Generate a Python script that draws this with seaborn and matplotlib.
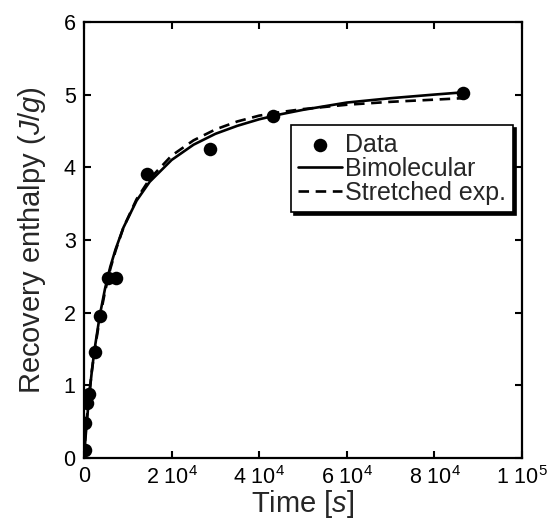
import matplotlib
matplotlib.use("Agg")
import matplotlib.pyplot as plt
import seaborn as sns
import pandas as pd

# ---- data ----
data_time = [150, 300, 600, 1200, 2400, 3600, 5400, 7200, 14400, 28800, 43200, 86400]
data_enthalpy = [0.11, 0.48, 0.75, 0.88, 1.46, 1.96, 2.48, 2.48, 3.91, 4.25, 4.71, 5.02]

curve_time = [0, 300, 600, 1200, 1800, 2400, 3600, 4800, 6000, 7200, 9000, 12000,
              15000, 20000, 25000, 30000, 35000, 40000, 45000, 50000, 60000, 70000,
              80000, 86400]
bimolecular = [0, 0.24, 0.47, 0.86, 1.20, 1.49, 1.96, 2.33, 2.63, 2.87, 3.17, 3.54,
               3.80, 4.10, 4.31, 4.46, 4.57, 4.66, 4.73, 4.79, 4.89, 4.95, 5.00, 5.03]
stretched = [0, 0.30, 0.52, 0.88, 1.20, 1.47, 1.92, 2.29, 2.60, 2.85, 3.17, 3.56,
             3.84, 4.16, 4.37, 4.52, 4.63, 4.71, 4.76, 4.80, 4.86, 4.90, 4.93, 4.95]

x_ticks = [0, 20000, 40000, 60000, 80000, 100000]
x_tick_labels = ["0", "2 10$^4$", "4 10$^4$", "6 10$^4$", "8 10$^4$", "1 10$^5$"]
y_ticks = [0, 1, 2, 3, 4, 5, 6]

sns.set_theme(style="ticks")
plt.rcParams["font.family"] = ["Liberation Sans", "DejaVu Sans"]
plt.rcParams["mathtext.fontset"] = "custom"
plt.rcParams["mathtext.rm"] = "Liberation Sans"
plt.rcParams["mathtext.it"] = "Liberation Sans:italic"
plt.rcParams["mathtext.bf"] = "Liberation Sans:bold"

fig = plt.figure(figsize=(5.49, 5.21), dpi=100)
ax = fig.add_axes([0.153, 0.121, 0.798, 0.837])

df_data = pd.DataFrame({"t": data_time, "h": data_enthalpy})
df_curve = pd.DataFrame({"t": curve_time, "bi": bimolecular, "st": stretched})

sns.lineplot(data=df_curve, x="t", y="st", ax=ax, color="black", lw=1.9,
             dashes=False, linestyle=(0, (4, 2.5)), label="Stretched exp.", zorder=2)
sns.lineplot(data=df_curve, x="t", y="bi", ax=ax, color="black", lw=1.9,
             label="Bimolecular", zorder=3)
sns.scatterplot(data=df_data, x="t", y="h", ax=ax, color="black", s=95,
                edgecolor="black", linewidth=0, label="Data", zorder=4)

ax.set_xlim(0, 100000)
ax.set_ylim(0, 6)
ax.set_xticks(x_ticks)
ax.set_xticklabels(x_tick_labels)
ax.set_yticks(y_ticks)
ax.tick_params(direction="in", length=5, width=1.5, labelsize=15.5,
               top=True, right=True, pad=6, colors="black")
for sp in ax.spines.values():
    sp.set_linewidth(1.6)
    sp.set_color("black")

ax.set_xlabel("Time [$s$]", fontsize=21, labelpad=-1)
ax.set_ylabel("Recovery enthalpy ($J/g$)", fontsize=21, labelpad=11)

handles, labels = ax.get_legend_handles_labels()
order = [labels.index("Data"), labels.index("Bimolecular"), labels.index("Stretched exp.")]
leg = ax.legend([handles[i] for i in order], [labels[i] for i in order],
                loc="upper left", bbox_to_anchor=(0.472, 0.763), fontsize=18,
                frameon=True, fancybox=False, edgecolor="black", framealpha=1,
                shadow={"color": "black", "alpha": 1}, handlelength=1.75,
                handletextpad=0.1, borderpad=0.3, labelspacing=0.0,
                borderaxespad=0)
leg.get_frame().set_linewidth(1.2)

fig.savefig("out.png", dpi=100)
